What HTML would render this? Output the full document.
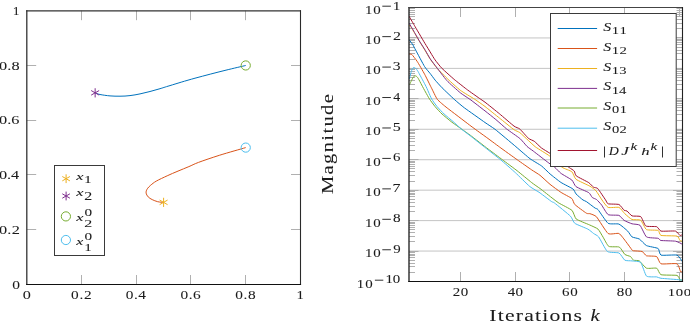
<!DOCTYPE html>
<html><head><meta charset="utf-8"><style>
html,body{margin:0;padding:0;background:#fff;}
body{width:690px;height:331px;overflow:hidden;}
svg{display:block;}
text{font-family:"Liberation Serif",serif;}
</style></head><body>
<svg width="690" height="331" viewBox="0 0 690 331">
<rect width="690" height="331" fill="#fff"/>
<path d="M81.50 284.5v-9.5M81.50 10.699999999999989v9.5M26.7 229.50h9.5M300.5 229.50h-9.5M136.50 284.5v-9.5M136.50 10.699999999999989v9.5M26.7 174.50h9.5M300.5 174.50h-9.5M190.50 284.5v-9.5M190.50 10.699999999999989v9.5M26.7 120.50h9.5M300.5 120.50h-9.5M245.50 284.5v-9.5M245.50 10.699999999999989v9.5M26.7 65.50h9.5M300.5 65.50h-9.5" stroke="#b0b0b0" stroke-width="1" fill="none"/>
<path d="M95.2 92.8C96.0 93.1 97.5 94.0 100.0 94.5C102.5 95.0 106.7 95.6 110.0 95.9C113.3 96.2 116.7 96.2 120.0 96.2C123.3 96.2 126.7 96.0 130.0 95.6C133.3 95.2 136.7 94.6 140.0 93.9C143.3 93.2 146.7 92.4 150.0 91.5C153.3 90.6 156.7 89.7 160.0 88.7C163.3 87.7 164.2 87.3 170.0 85.6C175.8 83.8 185.8 80.7 195.0 78.2C204.2 75.7 216.5 72.5 225.0 70.4C233.5 68.3 242.3 66.3 245.7 65.5" stroke="#0072BD" stroke-width="1.0" fill="none"/>
<path d="M163.6 202.4C162.6 202.2 159.6 202.2 157.7 201.7C155.8 201.2 153.8 200.4 152.2 199.6C150.6 198.8 149.2 198.0 148.2 196.9C147.2 195.8 146.2 194.2 146.1 192.9C145.9 191.6 146.5 190.1 147.3 188.8C148.1 187.5 149.2 186.5 150.7 185.2C152.2 183.9 153.6 182.7 156.3 181.1C159.1 179.5 163.6 177.5 167.2 175.8C170.8 174.1 174.4 172.6 178.0 171.1C181.6 169.6 185.5 168.0 188.9 166.6C192.3 165.2 193.4 164.3 198.5 162.4C203.6 160.5 211.8 157.7 219.7 155.2C227.6 152.7 241.4 148.9 245.7 147.6" stroke="#D95319" stroke-width="1.0" fill="none"/>
<path d="M95.15 88.24V97.44M91.17 90.54L99.13 95.14M99.13 90.54L91.17 95.14" stroke="#7E2F8E" stroke-width="1.0" fill="none"/>
<path d="M163.60 197.76V206.96M159.62 200.06L167.58 204.66M167.58 200.06L159.62 204.66" stroke="#EDB120" stroke-width="1.0" fill="none"/>
<circle cx="245.74" cy="65.46" r="4.6" stroke="#77AC30" stroke-width="1.0" fill="none"/>
<circle cx="245.74" cy="147.60" r="4.6" stroke="#4DBEEE" stroke-width="1.0" fill="none"/>
<rect x="54.5" y="165.5" width="50" height="90" fill="#fff" stroke="#3a3a3a" stroke-width="1"/>
<path d="M66.10 174.30V183.10M62.29 176.50L69.91 180.90M69.91 176.50L62.29 180.90" stroke="#EDB120" stroke-width="1.0" fill="none"/>
<path d="M66.10 191.60V200.40M62.29 193.80L69.91 198.20M69.91 193.80L62.29 198.20" stroke="#7E2F8E" stroke-width="1.0" fill="none"/>
<circle cx="65.90" cy="216.40" r="4.6" stroke="#77AC30" stroke-width="1.0" fill="none"/>
<circle cx="65.90" cy="240.00" r="4.6" stroke="#4DBEEE" stroke-width="1.0" fill="none"/>
<path d="M26.8 10.15V285.1" stroke="#333" stroke-width="1.3"/><path d="M26.15 10.8H301" stroke="#333" stroke-width="1.3"/><path d="M300.5 10.15V285.1" stroke="#2a2a2a" stroke-width="1.1"/><path d="M26.15 284.5H301.05" stroke="#111" stroke-width="1.15"/>
<path d="M409.0 37.94H682.5M409.0 68.39H682.5M409.0 98.83H682.5M409.0 129.28H682.5M409.0 159.72H682.5M409.0 190.17H682.5M409.0 220.61H682.5M409.0 251.06H682.5" stroke="#c4c4c4" stroke-width="1" fill="none"/>
<path d="M409.0 28.50h6M682.5 28.50h-6M409.0 23.50h6M682.5 23.50h-6M409.0 19.50h6M682.5 19.50h-6M409.0 16.50h6M682.5 16.50h-6M409.0 14.50h6M682.5 14.50h-6M409.0 12.50h6M682.5 12.50h-6M409.0 10.50h6M682.5 10.50h-6M409.0 8.50h6M682.5 8.50h-6M409.0 59.50h6M682.5 59.50h-6M409.0 53.50h6M682.5 53.50h-6M409.0 50.50h6M682.5 50.50h-6M409.0 47.50h6M682.5 47.50h-6M409.0 44.50h6M682.5 44.50h-6M409.0 42.50h6M682.5 42.50h-6M409.0 40.50h6M682.5 40.50h-6M409.0 39.50h6M682.5 39.50h-6M409.0 89.50h6M682.5 89.50h-6M409.0 84.50h6M682.5 84.50h-6M409.0 80.50h6M682.5 80.50h-6M409.0 77.50h6M682.5 77.50h-6M409.0 75.50h6M682.5 75.50h-6M409.0 73.50h6M682.5 73.50h-6M409.0 71.50h6M682.5 71.50h-6M409.0 69.50h6M682.5 69.50h-6M409.0 120.50h6M682.5 120.50h-6M409.0 114.50h6M682.5 114.50h-6M409.0 110.50h6M682.5 110.50h-6M409.0 107.50h6M682.5 107.50h-6M409.0 105.50h6M682.5 105.50h-6M409.0 103.50h6M682.5 103.50h-6M409.0 101.50h6M682.5 101.50h-6M409.0 100.50h6M682.5 100.50h-6M409.0 150.50h6M682.5 150.50h-6M409.0 145.50h6M682.5 145.50h-6M409.0 141.50h6M682.5 141.50h-6M409.0 138.50h6M682.5 138.50h-6M409.0 136.50h6M682.5 136.50h-6M409.0 133.50h6M682.5 133.50h-6M409.0 132.50h6M682.5 132.50h-6M409.0 130.50h6M682.5 130.50h-6M409.0 181.50h6M682.5 181.50h-6M409.0 175.50h6M682.5 175.50h-6M409.0 171.50h6M682.5 171.50h-6M409.0 168.50h6M682.5 168.50h-6M409.0 166.50h6M682.5 166.50h-6M409.0 164.50h6M682.5 164.50h-6M409.0 162.50h6M682.5 162.50h-6M409.0 161.50h6M682.5 161.50h-6M409.0 211.50h6M682.5 211.50h-6M409.0 206.50h6M682.5 206.50h-6M409.0 202.50h6M682.5 202.50h-6M409.0 199.50h6M682.5 199.50h-6M409.0 196.50h6M682.5 196.50h-6M409.0 194.50h6M682.5 194.50h-6M409.0 193.50h6M682.5 193.50h-6M409.0 191.50h6M682.5 191.50h-6M409.0 241.50h6M682.5 241.50h-6M409.0 236.50h6M682.5 236.50h-6M409.0 232.50h6M682.5 232.50h-6M409.0 229.50h6M682.5 229.50h-6M409.0 227.50h6M682.5 227.50h-6M409.0 225.50h6M682.5 225.50h-6M409.0 223.50h6M682.5 223.50h-6M409.0 222.50h6M682.5 222.50h-6M409.0 272.50h6M682.5 272.50h-6M409.0 266.50h6M682.5 266.50h-6M409.0 263.50h6M682.5 263.50h-6M409.0 260.50h6M682.5 260.50h-6M409.0 257.50h6M682.5 257.50h-6M409.0 255.50h6M682.5 255.50h-6M409.0 254.50h6M682.5 254.50h-6M409.0 252.50h6M682.5 252.50h-6M409.0 7.50h9.5M682.5 7.50h-9.5M409.0 37.50h9.5M682.5 37.50h-9.5M409.0 68.50h9.5M682.5 68.50h-9.5M409.0 98.50h9.5M682.5 98.50h-9.5M409.0 129.50h9.5M682.5 129.50h-9.5M409.0 159.50h9.5M682.5 159.50h-9.5M409.0 190.50h9.5M682.5 190.50h-9.5M409.0 220.50h9.5M682.5 220.50h-9.5M409.0 251.50h9.5M682.5 251.50h-9.5M409.0 281.50h9.5M682.5 281.50h-9.5M460.50 281.5v-9.5M460.50 7.5v9.5M515.50 281.5v-9.5M515.50 7.5v9.5M569.50 281.5v-9.5M569.50 7.5v9.5M624.50 281.5v-9.5M624.50 7.5v9.5M679.50 281.5v-9.5M679.50 7.5v9.5" stroke="#b0b0b0" stroke-width="1" fill="none"/>
<clipPath id="cp"><rect x="409.0" y="7.5" width="273.50" height="274.00"/></clipPath>
<g clip-path="url(#cp)" fill="none" stroke-width="1.0" stroke-linejoin="round"><path d="M409.1 39.8C409.4 40.2 412.5 44.1 413.0 45.0C413.5 45.9 414.6 48.2 415.6 50.0C416.6 51.8 423.4 64.7 424.6 66.6C425.8 68.5 429.1 72.2 430.0 73.3C430.9 74.4 434.2 79.0 435.2 80.2C436.2 81.4 440.5 86.2 442.1 87.8C443.7 89.4 452.3 97.6 454.2 99.3C456.1 101.0 462.0 106.1 464.6 108.0C467.2 109.9 482.5 120.7 485.0 122.5C487.5 124.3 492.3 127.2 494.9 129.2C497.5 131.2 513.0 144.2 515.9 146.7C518.8 149.2 527.9 157.1 530.0 158.7C532.1 160.3 539.9 164.7 541.6 166.0C543.3 167.3 548.4 172.5 550.0 173.9C551.6 175.3 559.0 181.1 560.9 182.4C562.8 183.7 571.7 188.0 573.0 189.0C574.3 190.0 575.2 193.0 576.0 193.9C576.8 194.8 582.1 199.4 583.0 200.0C583.9 200.6 585.4 200.9 586.4 201.6C587.4 202.3 594.1 207.4 595.1 208.1C596.1 208.8 596.9 208.3 598.0 209.6C599.1 210.9 606.4 222.1 608.1 223.3C609.9 224.5 617.4 223.4 619.0 224.1C620.6 224.8 626.6 230.0 627.7 231.1C628.8 232.2 631.0 236.2 632.0 236.9C633.0 237.6 638.1 238.3 639.3 239.0C640.5 239.7 644.9 244.8 646.5 245.6C648.1 246.4 656.9 247.7 658.1 248.5C659.3 249.3 659.4 254.5 661.0 255.1C662.6 255.7 675.2 254.6 677.0 255.1C678.8 255.6 681.9 261.1 682.3 261.6" stroke="#0072BD"/><path d="M408.8 54.2C409.1 54.2 411.1 53.9 411.8 54.5C412.5 55.1 416.0 59.7 417.1 61.3C418.2 62.9 423.4 72.0 424.6 74.2C425.8 76.4 430.3 85.7 431.4 87.8C432.5 89.9 436.0 97.6 437.3 99.3C438.6 101.0 444.5 105.9 447.2 108.0C449.9 110.1 466.4 122.6 469.5 125.0C472.6 127.4 482.5 134.5 485.0 136.3C487.5 138.1 496.8 145.0 499.5 147.0C502.2 149.0 514.6 157.9 517.3 159.8C520.0 161.7 529.8 168.6 531.7 169.9C533.6 171.2 538.5 174.1 540.0 175.3C541.5 176.5 548.3 182.9 550.0 184.3C551.7 185.7 559.1 191.1 560.9 192.3C562.7 193.5 570.6 197.5 571.8 198.5C573.0 199.5 573.6 203.3 574.8 204.5C576.0 205.7 585.1 212.4 586.4 213.2C587.7 214.0 589.2 213.4 590.0 213.7C590.8 214.0 595.0 215.2 596.5 216.8C598.0 218.5 606.2 232.1 608.1 233.5C610.0 234.9 617.5 232.8 619.0 233.5C620.5 234.2 625.1 240.6 626.2 242.0C627.3 243.4 631.4 249.2 632.0 249.9C632.6 250.6 632.6 250.7 633.5 250.8C634.4 250.9 641.1 251.1 642.2 251.5C643.3 251.9 645.3 255.4 646.5 255.8C647.7 256.2 655.5 255.9 656.7 256.6C657.9 257.3 659.3 263.2 661.0 263.8C662.7 264.4 675.4 263.1 677.0 263.8C678.6 264.5 680.2 271.2 680.6 271.8C681.0 272.4 682.2 271.2 682.3 271.1" stroke="#D95319"/><path d="M409.1 25.0C409.3 25.3 411.5 27.9 412.0 28.6C412.5 29.3 414.3 32.7 415.0 33.8C415.7 34.9 419.1 40.9 420.0 42.3C420.9 43.7 424.6 49.6 425.4 51.0C426.2 52.4 429.0 57.3 430.0 58.8C431.0 60.3 435.8 66.8 437.3 68.5C438.8 70.2 446.2 77.6 448.1 79.4C450.0 81.2 458.0 88.5 460.2 90.2C462.4 91.9 472.7 97.9 474.8 99.3C476.9 100.7 482.9 104.9 485.0 106.5C487.1 108.1 497.1 116.2 499.5 118.1C501.9 120.0 512.3 128.5 514.0 129.7C515.7 130.9 518.6 131.7 519.8 132.6C521.0 133.5 527.2 139.4 528.5 140.6C529.8 141.8 533.9 145.8 535.7 147.1C537.5 148.4 547.7 154.5 549.9 156.2C552.1 157.9 560.3 166.0 562.1 167.3C563.9 168.6 570.6 170.7 571.8 171.7C573.0 172.7 574.5 178.1 576.0 179.3C577.5 180.5 588.2 185.2 589.9 186.2C591.6 187.2 595.0 189.7 596.0 190.8C597.0 192.0 601.0 198.6 602.0 200.0C603.0 201.4 606.7 206.8 608.1 207.4C609.5 208.0 617.6 206.9 619.0 207.4C620.4 207.9 623.7 212.7 624.8 213.7C625.9 214.7 630.7 219.0 632.0 219.5C633.3 220.0 639.5 219.4 640.7 220.2C641.9 221.0 645.0 228.8 646.5 229.6C648.0 230.4 656.9 229.9 658.1 230.4C659.3 230.9 659.4 234.9 661.0 235.4C662.6 235.9 675.4 235.7 677.0 236.1C678.6 236.5 679.5 240.1 679.9 240.5C680.3 240.9 682.1 241.2 682.3 241.3" stroke="#EDB120"/><path d="M409.1 23.1C409.6 24.0 414.1 31.7 415.0 33.3C415.9 34.9 419.1 40.6 420.0 42.0C420.9 43.4 424.6 49.1 425.4 50.5C426.2 51.9 429.2 57.2 430.0 58.5C430.8 59.8 433.8 63.7 435.2 65.5C436.6 67.3 444.8 78.3 446.9 80.6C449.0 82.9 458.3 91.1 460.2 92.7C462.1 94.3 467.8 97.8 469.9 99.3C472.0 100.8 482.8 109.2 485.0 110.9C487.2 112.6 494.1 118.1 495.9 119.6C497.7 121.1 504.7 127.4 506.7 129.0C508.7 130.6 518.1 137.0 519.8 138.4C521.5 139.8 525.9 145.3 527.0 146.4C528.1 147.5 531.5 149.7 533.3 151.1C535.1 152.5 547.0 161.7 548.8 163.0C550.6 164.3 553.8 166.4 554.8 167.3C555.8 168.2 559.5 172.2 560.9 173.3C562.3 174.4 570.5 178.9 571.8 180.0C573.1 181.1 574.6 185.5 576.0 186.6C577.4 187.7 587.3 191.7 588.7 192.6C590.1 193.5 591.6 196.9 592.3 197.5C592.9 198.1 595.7 198.9 596.5 199.5C597.3 200.1 600.6 203.7 601.6 205.0C602.6 206.3 606.6 213.7 608.1 214.6C609.6 215.5 617.7 214.9 619.0 215.4C620.3 215.9 623.0 219.7 624.1 220.4C625.2 221.1 630.7 223.4 632.0 223.8C633.3 224.2 638.8 224.2 640.0 225.3C641.2 226.4 645.0 235.8 646.5 236.9C648.0 238.0 656.9 238.0 658.1 238.3C659.3 238.6 659.5 240.3 661.0 240.5C662.5 240.7 673.7 240.9 675.5 241.2C677.3 241.5 681.7 243.9 682.3 244.2" stroke="#7E2F8E"/><path d="M409.6 84.5C409.8 84.2 411.2 81.1 411.5 80.5C411.8 79.9 413.0 77.4 413.3 77.0C413.6 76.6 414.7 75.9 415.0 75.8C415.3 75.7 416.2 76.1 416.5 76.3C416.8 76.5 417.9 77.8 418.3 78.5C418.7 79.2 421.1 83.9 421.7 85.0C422.3 86.1 424.8 90.8 425.5 92.0C426.2 93.2 428.8 98.0 429.6 99.2C430.4 100.4 434.0 105.3 435.0 106.5C436.0 107.7 440.7 112.8 442.0 114.0C443.3 115.2 449.4 120.2 451.0 121.5C452.6 122.8 460.2 128.0 461.8 129.2C463.4 130.4 468.3 133.8 470.5 135.4C472.7 137.1 485.4 147.0 488.1 149.0C490.8 151.0 500.2 158.1 502.6 159.9C505.0 161.7 514.8 168.9 517.2 170.8C519.6 172.7 529.8 181.1 531.7 182.6C533.6 184.1 538.2 187.2 540.0 188.5C541.8 189.8 551.4 197.5 553.0 198.7C554.6 199.9 557.2 202.0 558.8 203.0C560.4 204.0 570.4 209.0 571.9 210.3C573.4 211.6 574.8 217.8 576.2 219.0C577.7 220.2 587.5 224.0 589.3 224.8C591.1 225.6 596.9 228.1 598.0 229.1C599.1 230.1 602.1 235.6 603.0 237.0C603.9 238.4 607.4 245.6 608.8 246.4C610.2 247.2 618.1 246.4 619.4 247.1C620.7 247.8 623.9 253.6 624.8 254.4C625.7 255.2 629.9 256.1 630.6 256.6C631.3 257.1 632.8 259.8 633.5 260.2C634.2 260.6 638.2 260.2 639.3 260.9C640.4 261.6 645.0 267.6 646.5 268.2C648.0 268.8 655.5 267.7 656.7 268.2C657.9 268.7 659.3 274.1 661.0 274.7C662.7 275.3 675.4 275.0 677.0 275.4C678.6 275.8 679.5 279.4 679.9 279.8C680.3 280.2 682.1 280.0 682.3 280.0" stroke="#77AC30"/><path d="M409.3 79.0C409.4 78.5 410.8 73.3 411.0 72.5C411.2 71.7 412.1 69.4 412.3 69.0C412.5 68.6 413.3 67.7 413.5 67.6C413.7 67.5 414.8 67.8 415.0 67.9C415.2 68.0 416.2 68.9 416.5 69.3C416.8 69.7 418.1 71.5 418.5 72.3C418.9 73.1 421.2 77.4 421.8 78.5C422.4 79.6 424.7 83.9 425.3 85.0C425.9 86.1 428.0 90.8 428.5 92.0C429.0 93.2 431.1 98.0 431.8 99.2C432.5 100.4 436.0 105.3 437.0 106.5C438.0 107.7 442.8 112.8 444.1 114.0C445.4 115.2 451.5 120.2 453.0 121.5C454.5 122.8 460.2 128.0 461.6 129.2C463.0 130.4 467.8 133.9 470.0 135.6C472.2 137.3 485.5 147.9 488.1 149.9C490.7 151.9 498.5 158.0 500.8 159.9C503.1 161.8 512.9 170.4 515.3 172.6C517.7 174.8 527.7 184.8 529.8 186.5C531.9 188.2 538.2 191.6 540.0 192.9C541.8 194.2 550.4 200.8 551.6 201.6C552.8 202.4 552.9 201.8 554.5 203.0C556.1 204.2 568.7 214.4 570.4 216.1C572.1 217.8 573.3 222.2 574.8 223.3C576.2 224.4 586.2 228.2 587.8 229.1C589.4 229.9 592.7 232.8 593.6 233.5C594.5 234.2 597.6 235.5 598.7 237.0C599.9 238.5 605.7 250.2 607.4 251.5C609.1 252.8 617.5 252.3 619.0 253.0C620.5 253.7 623.7 259.5 624.8 260.2C625.9 260.9 630.7 260.7 632.0 260.9C633.3 261.1 639.5 261.1 640.7 262.4C641.9 263.7 645.2 274.9 646.5 276.1C647.8 277.3 655.5 276.7 656.7 276.9C657.9 277.1 659.1 278.1 661.0 278.3C662.9 278.5 678.1 279.6 679.9 279.8C681.7 280.0 682.1 280.4 682.3 280.5" stroke="#4DBEEE"/><path d="M409.1 16.3C409.6 17.2 414.1 24.9 415.0 26.5C415.9 28.1 419.2 33.6 420.0 35.0C420.8 36.4 424.1 42.0 425.0 43.5C425.9 45.0 430.0 51.6 430.8 53.0C431.6 54.4 434.1 58.5 435.0 59.8C435.9 61.1 440.5 66.9 442.1 68.5C443.7 70.1 452.2 77.7 454.2 79.4C456.2 81.1 464.1 87.3 466.3 89.0C468.5 90.7 479.2 98.2 480.8 99.3C482.4 100.4 483.4 101.0 485.0 102.2C486.6 103.4 497.1 111.8 499.5 113.8C501.9 115.8 512.3 124.8 514.0 126.1C515.7 127.4 518.6 128.0 519.8 129.0C521.0 130.0 527.3 137.4 528.5 138.4C529.7 139.4 533.2 140.5 534.3 141.3C535.4 142.1 540.2 147.0 541.5 148.0C542.8 149.0 548.5 152.3 549.9 153.3C551.3 154.3 556.4 158.8 558.0 160.0C559.6 161.2 567.9 166.7 569.3 167.6C570.6 168.5 573.6 170.3 574.2 171.0C574.8 171.7 575.1 174.9 576.3 175.9C577.5 176.9 587.3 181.7 588.7 182.6C590.1 183.5 592.7 186.7 593.5 187.2C594.3 187.7 596.8 187.5 597.8 188.6C598.8 189.7 604.7 198.7 605.6 200.0C606.5 201.3 607.0 203.4 608.1 203.8C609.2 204.2 617.7 204.0 619.0 204.5C620.3 205.0 623.4 209.8 624.1 210.3C624.8 210.8 626.3 210.5 627.0 211.0C627.7 211.5 630.9 215.4 632.0 215.9C633.1 216.4 639.6 215.8 640.7 216.6C641.9 217.4 644.5 225.2 645.8 226.0C647.1 226.8 655.4 226.3 656.7 226.7C658.0 227.1 659.4 230.7 661.0 231.1C662.6 231.5 673.9 230.7 675.5 231.1C677.1 231.5 679.3 235.1 679.9 235.4C680.5 235.7 682.1 234.8 682.3 234.7" stroke="#A2142F"/></g>
<path d="M409 7V282.1" stroke="#222" stroke-width="1.35"/><path d="M408.3 7.5H683" stroke="#444" stroke-width="1.05"/><path d="M682.5 7V282.1" stroke="#222" stroke-width="1.1"/><path d="M408.3 281.5H683.05" stroke="#111" stroke-width="1.15"/>
<rect x="550.5" y="13.5" width="125.7" height="153" fill="#fff" stroke="#3a3a3a" stroke-width="1"/>
<path d="M557.7 28.5H597.1" stroke="#0072BD" stroke-width="1"/><path d="M557.7 48.5H597.1" stroke="#D95319" stroke-width="1"/><path d="M557.7 68.5H597.1" stroke="#EDB120" stroke-width="1"/><path d="M557.7 88.4H597.1" stroke="#7E2F8E" stroke-width="1"/><path d="M557.7 108.0H597.1" stroke="#77AC30" stroke-width="1"/><path d="M557.7 128.2H597.1" stroke="#4DBEEE" stroke-width="1"/><path d="M557.7 150.5H597.1" stroke="#A2142F" stroke-width="1"/><path d="M604.5 146.5V157.5M662.5 146.5V157.5" stroke="#1a1a1a" stroke-width="0.9"/>
<path d="M382.30 6.20H390.90M382.30 36.64H390.90M382.30 67.09H390.90M382.30 97.53H390.90M382.30 127.98H390.90M382.30 158.42H390.90M382.30 188.87H390.90M382.30 219.31H390.90M382.30 249.76H390.90M374.90 280.20H383.30" stroke="#1a1a1a" stroke-width="0.9"/>
<g opacity="0.995" font-family="Liberation Serif" fill="#1a1a1a" stroke="#1a1a1a" stroke-width="0.06"><text transform="translate(12.18 288.75) scale(1.249 1)" font-size="12.39" letter-spacing="0.00">0</text><text transform="translate(-1.05 233.79) scale(1.300 1)" font-size="12.54" letter-spacing="0.21">0.2</text><text transform="translate(-1.05 179.03) scale(1.300 1)" font-size="12.54" letter-spacing="-0.04">0.4</text><text transform="translate(-1.05 124.27) scale(1.300 1)" font-size="12.54" letter-spacing="0.03">0.6</text><text transform="translate(-1.05 69.51) scale(1.300 1)" font-size="12.54" letter-spacing="0.09">0.8</text><text transform="translate(12.67 14.80) scale(1.160 1)" font-size="11.82" letter-spacing="0.00">1</text><text transform="translate(22.75 298.66) scale(1.373 1)" font-size="11.79" letter-spacing="0.00">0</text><text transform="translate(71.00 298.66) scale(1.300 1)" font-size="11.79" letter-spacing="0.60">0.2</text><text transform="translate(125.76 298.66) scale(1.300 1)" font-size="11.79" letter-spacing="0.37">0.4</text><text transform="translate(180.52 298.66) scale(1.300 1)" font-size="11.79" letter-spacing="0.43">0.6</text><text transform="translate(235.28 298.66) scale(1.300 1)" font-size="11.79" letter-spacing="0.49">0.8</text><text transform="translate(296.46 298.90) scale(1.241 1)" font-size="11.97" letter-spacing="0.00">1</text><text transform="translate(452.70 295.67) scale(1.300 1)" font-size="11.49" letter-spacing="0.50">20</text><text transform="translate(507.67 295.67) scale(1.300 1)" font-size="11.49" letter-spacing="0.27">40</text><text transform="translate(562.04 295.67) scale(1.300 1)" font-size="11.49" letter-spacing="0.50">60</text><text transform="translate(616.70 295.67) scale(1.300 1)" font-size="11.49" letter-spacing="0.50">80</text><text transform="translate(667.68 295.67) scale(1.300 1)" font-size="11.32" letter-spacing="0.55">100</text><text transform="translate(364.96 13.57) scale(1.300 1)" font-size="11.47" letter-spacing="0.56">10</text><text transform="translate(392.81 9.50) scale(1.305 1)" font-size="11.82" letter-spacing="0.00">1</text><text transform="translate(364.96 44.02) scale(1.300 1)" font-size="11.47" letter-spacing="0.56">10</text><text transform="translate(392.96 39.94) scale(1.333 1)" font-size="12.00" letter-spacing="0.00">2</text><text transform="translate(364.96 74.46) scale(1.300 1)" font-size="11.47" letter-spacing="0.56">10</text><text transform="translate(392.82 70.27) scale(1.321 1)" font-size="11.82" letter-spacing="0.00">3</text><text transform="translate(364.96 104.90) scale(1.300 1)" font-size="11.47" letter-spacing="0.56">10</text><text transform="translate(393.32 100.83) scale(1.159 1)" font-size="12.00" letter-spacing="0.00">4</text><text transform="translate(364.96 135.35) scale(1.300 1)" font-size="11.47" letter-spacing="0.56">10</text><text transform="translate(392.64 131.16) scale(1.354 1)" font-size="11.82" letter-spacing="0.00">5</text><text transform="translate(364.96 165.79) scale(1.300 1)" font-size="11.47" letter-spacing="0.56">10</text><text transform="translate(393.00 161.49) scale(1.278 1)" font-size="11.64" letter-spacing="0.00">6</text><text transform="translate(364.96 196.24) scale(1.300 1)" font-size="11.47" letter-spacing="0.56">10</text><text transform="translate(392.48 192.17) scale(1.333 1)" font-size="12.00" letter-spacing="0.00">7</text><text transform="translate(364.96 226.68) scale(1.300 1)" font-size="11.47" letter-spacing="0.56">10</text><text transform="translate(392.99 222.38) scale(1.309 1)" font-size="11.64" letter-spacing="0.00">8</text><text transform="translate(364.96 257.13) scale(1.300 1)" font-size="11.47" letter-spacing="0.56">10</text><text transform="translate(393.15 252.94) scale(1.259 1)" font-size="11.82" letter-spacing="0.00">9</text><text transform="translate(356.86 287.57) scale(1.300 1)" font-size="11.47" letter-spacing="0.71">10</text><text transform="translate(385.56 283.27) scale(1.300 1)" font-size="11.47" letter-spacing="-0.21">10</text><text transform="translate(489.33 320.63) scale(1.300 1)" font-size="16.67" letter-spacing="0.93">Iterations</text><text transform="translate(590.58 320.70) scale(1.310 1)" font-size="15.80" letter-spacing="0.00" font-style="italic">k</text><text transform="translate(332.59 194.12) rotate(-90) scale(1.300 1)" font-size="15.78" letter-spacing="1.07">Magnitude</text><text transform="translate(603.34 30.76) scale(1.336 1)" font-size="11.94" letter-spacing="0.00" font-style="italic">S</text><text transform="translate(611.67 34.00) scale(1.300 1)" font-size="11.36" letter-spacing="0.80">11</text><text transform="translate(603.34 50.66) scale(1.336 1)" font-size="11.94" letter-spacing="0.00" font-style="italic">S</text><text transform="translate(611.67 53.90) scale(1.300 1)" font-size="11.36" letter-spacing="0.34">12</text><text transform="translate(603.34 70.66) scale(1.336 1)" font-size="11.94" letter-spacing="0.00" font-style="italic">S</text><text transform="translate(611.69 73.79) scale(1.300 1)" font-size="11.19" letter-spacing="0.26">13</text><text transform="translate(603.34 90.46) scale(1.336 1)" font-size="11.94" letter-spacing="0.00" font-style="italic">S</text><text transform="translate(611.67 93.70) scale(1.300 1)" font-size="11.36" letter-spacing="-0.11">14</text><text transform="translate(603.34 110.26) scale(1.336 1)" font-size="11.94" letter-spacing="0.00" font-style="italic">S</text><text transform="translate(611.93 113.28) scale(1.300 1)" font-size="11.03" letter-spacing="0.46">01</text><text transform="translate(603.34 130.16) scale(1.336 1)" font-size="11.94" letter-spacing="0.00" font-style="italic">S</text><text transform="translate(611.92 133.18) scale(1.300 1)" font-size="11.19" letter-spacing="0.31">02</text><text transform="translate(608.74 154.70) scale(1.204 1)" font-size="11.54" letter-spacing="0.00" font-style="italic">D</text><text transform="translate(621.25 155.18) scale(1.417 1)" font-size="12.27" letter-spacing="0.00" font-style="italic">J</text><text transform="translate(630.55 150.00) scale(1.391 1)" font-size="10.87" letter-spacing="0.00" font-style="italic">k</text><text transform="translate(641.33 154.50) scale(1.643 1)" font-size="10.14" letter-spacing="0.00" font-style="italic">h</text><text transform="translate(650.55 150.00) scale(1.391 1)" font-size="10.87" letter-spacing="0.00" font-style="italic">k</text><text transform="translate(76.36 179.50) scale(1.658 1)" font-size="9.78" letter-spacing="0.00" font-style="italic">x</text><text transform="translate(84.11 183.00) scale(1.455 1)" font-size="10.61" letter-spacing="0.00">1</text><text transform="translate(76.36 196.40) scale(1.658 1)" font-size="9.78" letter-spacing="0.00" font-style="italic">x</text><text transform="translate(84.36 199.90) scale(1.387 1)" font-size="11.54" letter-spacing="0.00">2</text><text transform="translate(76.36 220.70) scale(1.588 1)" font-size="10.22" letter-spacing="0.00" font-style="italic">x</text><text transform="translate(84.39 216.28) scale(1.399 1)" font-size="10.90" letter-spacing="0.00">0</text><text transform="translate(84.36 227.40) scale(1.405 1)" font-size="11.38" letter-spacing="0.00">2</text><text transform="translate(76.36 244.60) scale(1.544 1)" font-size="10.22" letter-spacing="0.00" font-style="italic">x</text><text transform="translate(84.39 239.80) scale(1.501 1)" font-size="10.15" letter-spacing="0.00">0</text><text transform="translate(84.34 250.80) scale(1.351 1)" font-size="11.21" letter-spacing="0.00">1</text></g>
</svg>
</body></html>
